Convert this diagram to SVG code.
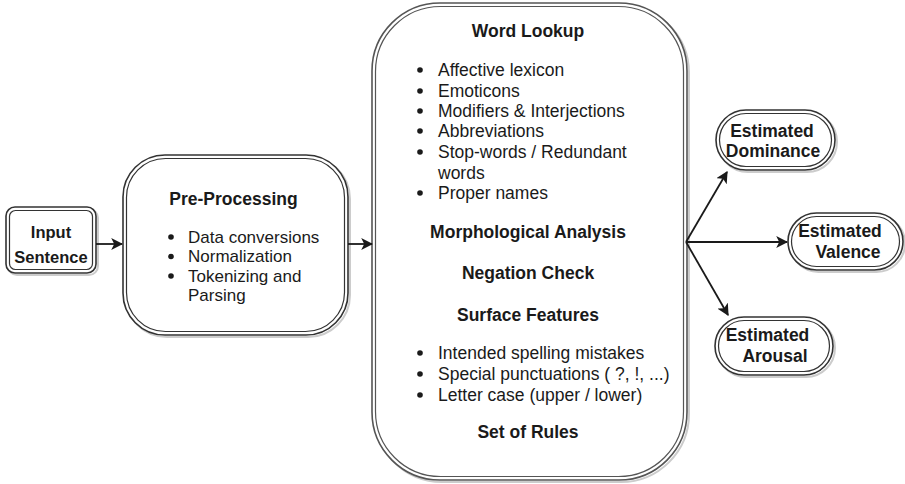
<svg xmlns="http://www.w3.org/2000/svg" width="905" height="484" viewBox="0 0 905 484">
<style>
.o{fill:#fff;stroke:#333;stroke-width:1.6}
.i{fill:none;stroke:#333;stroke-width:1.2}
.sh{fill:none;stroke:#ccc;stroke-width:2}
.t{font-family:"Liberation Sans",Arial,sans-serif;font-size:17.5px;fill:#1a1a1a}
.s{font-size:17px}
.b{font-weight:bold}
.m{text-anchor:middle}
.c{stroke:#1a1a1a;stroke-width:1.8;fill:none}
.d{fill:#1a1a1a}
</style>
<defs>
<marker id="ah2" viewBox="0 0 10 10" refX="9" refY="5" markerWidth="12" markerHeight="12" orient="auto" markerUnits="userSpaceOnUse">
<path d="M0,0 L10,5 L0,10 L2.5,5 Z" fill="#1a1a1a"/>
</marker>
</defs>
<rect width="905" height="484" fill="#fff"/>

<g id="input">
<rect class="sh" x="8" y="209" width="90" height="66" rx="9"/>
<rect class="o" x="6" y="207" width="90" height="66" rx="9"/>
<rect class="i" x="9.5" y="210.5" width="83" height="59" rx="6"/>
<text class="t b m" x="51" y="238" style="font-size:16.5px">Input</text>
<text class="t b m" x="51" y="263" style="font-size:16.5px">Sentence</text>
</g>

<g id="preprocessing">
<rect class="sh" x="125" y="157" width="225" height="180" rx="42"/>
<rect class="o" x="123" y="155" width="225" height="180" rx="42"/>
<rect class="i" x="126.5" y="158.5" width="218" height="173" rx="39"/>
<text class="t b m" x="233.5" y="205">Pre-Processing</text>
<circle class="d" cx="171" cy="237" r="2.8"/>
<circle class="d" cx="171" cy="256.5" r="2.8"/>
<circle class="d" cx="171" cy="276" r="2.8"/>
<text class="t s" x="188" y="242.5">Data conversions</text>
<text class="t s" x="188" y="262">Normalization</text>
<text class="t s" x="188" y="281.5">Tokenizing and</text>
<text class="t s" x="188" y="301">Parsing</text>
</g>

<g id="analysis">
<rect class="sh" x="374" y="5" width="315" height="477" rx="68"/>
<rect class="o" x="372" y="3" width="315" height="477" rx="68" style="stroke:#555"/>
<rect class="i" x="375.5" y="6.5" width="308" height="470" rx="65" style="stroke:#555"/>
<text class="t b m" x="528" y="37">Word Lookup</text>
<circle class="d" cx="420" cy="70" r="2.8"/>
<circle class="d" cx="420" cy="91" r="2.8"/>
<circle class="d" cx="420" cy="111" r="2.8"/>
<circle class="d" cx="420" cy="131" r="2.8"/>
<circle class="d" cx="420" cy="152" r="2.8"/>
<circle class="d" cx="420" cy="193" r="2.8"/>
<text class="t" x="438" y="76">Affective lexicon</text>
<text class="t" x="438" y="97">Emoticons</text>
<text class="t" x="438" y="117">Modifiers &amp; Interjections</text>
<text class="t" x="438" y="137">Abbreviations</text>
<text class="t" x="438" y="158">Stop-words / Redundant</text>
<text class="t" x="438" y="179">words</text>
<text class="t" x="438" y="199">Proper names</text>
<text class="t b m" x="528" y="238">Morphological Analysis</text>
<text class="t b m" x="528" y="279">Negation Check</text>
<text class="t b m" x="528" y="321">Surface Features</text>
<circle class="d" cx="420" cy="353" r="2.8"/>
<circle class="d" cx="420" cy="374" r="2.8"/>
<circle class="d" cx="420" cy="395" r="2.8"/>
<text class="t" x="438" y="359">Intended spelling mistakes</text>
<text class="t" x="438" y="380">Special punctuations ( ?, !, ...)</text>
<text class="t" x="438" y="401">Letter case (upper / lower)</text>
<text class="t b m" x="528" y="438">Set of Rules</text>
</g>

<g id="dominance">
<rect class="sh" x="718" y="112" width="119" height="60" rx="30"/>
<rect class="o" x="716" y="110" width="119" height="60" rx="30"/>
<rect class="i" x="719.5" y="113.5" width="112" height="53" rx="26.5"/>
<text class="t b m" x="772" y="137">Estimated</text>
<text class="t b m" x="773" y="157">Dominance</text>
</g>

<g id="valence">
<rect class="sh" x="790" y="215" width="115" height="57" rx="28.5"/>
<rect class="o" x="788" y="213" width="115" height="57" rx="28.5"/>
<rect class="i" x="791.5" y="216.5" width="108" height="50" rx="25"/>
<text class="t b m" x="840" y="237">Estimated</text>
<text class="t b m" x="848" y="258">Valence</text>
</g>

<g id="arousal">
<rect class="sh" x="717" y="319" width="118" height="58" rx="29"/>
<rect class="o" x="715" y="317" width="118" height="58" rx="29"/>
<rect class="i" x="718.5" y="320.5" width="111" height="51" rx="25.5"/>
<text class="t b m" x="767.5" y="341">Estimated</text>
<text class="t b m" x="775" y="362">Arousal</text>
</g>

<g id="connectors">
<line class="c" x1="96" y1="244" x2="122" y2="244" marker-end="url(#ah2)"/>
<line class="c" x1="348" y1="244" x2="372" y2="244" marker-end="url(#ah2)"/>
<line class="c" x1="686" y1="242" x2="727" y2="172" marker-end="url(#ah2)"/>
<line class="c" x1="686" y1="242" x2="787" y2="242" marker-end="url(#ah2)"/>
<line class="c" x1="686" y1="242" x2="728" y2="315" marker-end="url(#ah2)"/>
</g>
</svg>
